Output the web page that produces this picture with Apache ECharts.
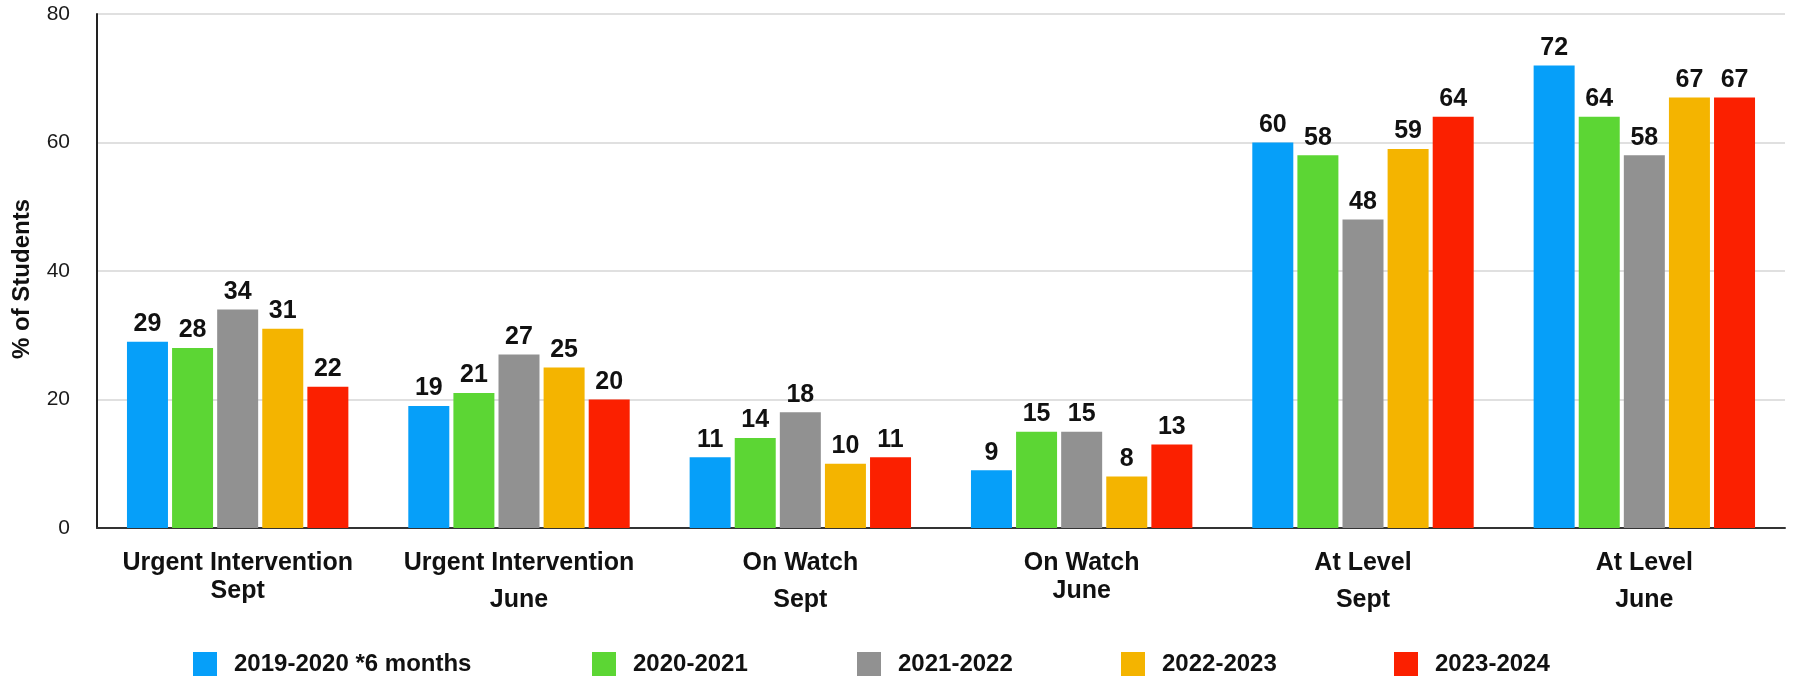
<!DOCTYPE html>
<html>
<head>
<meta charset="utf-8">
<script src="https://cdn.jsdelivr.net/npm/echarts@6/dist/echarts.min.js"></script>
<style>
html,body{margin:0;padding:0;background:#fff;}
#chart{width:1796px;height:678px;}
</style>
</head>
<body>
<div id="chart"></div>
<script>
const categories = [
  ['Urgent Intervention', 'Sept'],
  ['Urgent Intervention', 'June'],
  ['On Watch', 'Sept'],
  ['On Watch', 'June'],
  ['At Level', 'Sept'],
  ['At Level', 'June']
];
const seriesNames = ['2019-2020 *6 months', '2020-2021', '2021-2022', '2022-2023', '2023-2024'];
const s2019 = [29, 19, 11, 9, 60, 72];
const s2020 = [28, 21, 14, 15, 58, 64];
const s2021 = [34, 27, 18, 15, 48, 58];
const s2022 = [31, 25, 10, 8, 59, 67];
const s2023 = [22, 20, 11, 13, 64, 67];
const yTicks = [0, 20, 40, 60, 80];

const colors = ['#069FF9', '#5CD634', '#919191', '#F4B400', '#FB2000'];
const seriesData = [s2019, s2020, s2021, s2022, s2023];
const secondLineHeights = [28, 46, 46, 28, 46, 46];
const legendLefts = [188, 587, 852, 1116, 1389];

const FONT = '"Liberation Sans", Arial, Helvetica, sans-serif';
const chart = echarts.init(document.getElementById('chart'));

const rich = {
  a: { fontFamily: FONT, fontWeight: 'bold', fontSize: 25, color: '#111', lineHeight: 28 }
};
secondLineHeights.forEach((h, i) => {
  rich['b' + i] = { fontFamily: FONT, fontWeight: 'bold', fontSize: 25, color: '#111', lineHeight: h };
});

chart.setOption({
  animation: false,
  backgroundColor: '#fff',
  color: colors,
  grid: { left: 97, right: 11, top: 14, bottom: 150, containLabel: false },
  legend: seriesNames.map((n, i) => ({
    left: legendLefts[i],
    top: 647,
    itemWidth: 24,
    itemHeight: 24,
    icon: 'rect',
    selectedMode: false,
    textStyle: { fontFamily: FONT, fontWeight: 'bold', fontSize: 24, color: '#111', padding: [0, 0, 0, 12] },
    data: [n]
  })),
  xAxis: {
    type: 'category',
    data: categories.map(c => c.join('\n')),
    axisLine: { lineStyle: { color: '#333', width: 2 } },
    axisTick: { show: false },
    axisLabel: {
      margin: 21,
      interval: 0,
      formatter: function (v, idx) {
        const parts = v.split('\n');
        return '{a|' + parts[0] + '}\n{b' + idx + '|' + parts[1] + '}';
      },
      rich: rich
    }
  },
  yAxis: {
    type: 'value',
    min: yTicks[0],
    max: yTicks[yTicks.length - 1],
    interval: 20,
    name: '% of Students',
    nameLocation: 'middle',
    nameGap: 63,
    nameTextStyle: { fontFamily: FONT, fontWeight: 'bold', fontSize: 24, color: '#111', padding: [0, 16, 0, 0] },
    axisLine: { show: true, lineStyle: { color: '#222', width: 2 } },
    axisTick: { show: false },
    axisLabel: { margin: 27, fontFamily: FONT, fontSize: 21, color: '#1a1a1a' },
    splitLine: { lineStyle: { color: '#d6d6d6', width: 1.5 } }
  },
  series: seriesNames.map((n, i) => ({
    name: n,
    type: 'bar',
    data: seriesData[i],
    barWidth: 41,
    barGap: '10%',
    itemStyle: { color: colors[i] },
    label: {
      show: true,
      position: 'top',
      distance: 5,
      fontFamily: FONT,
      fontWeight: 'bold',
      fontSize: 25,
      color: '#111'
    }
  }))
});
</script>
</body>
</html>
